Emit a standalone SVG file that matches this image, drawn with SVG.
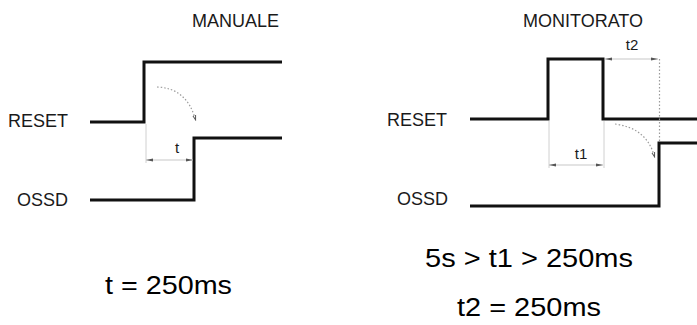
<svg xmlns="http://www.w3.org/2000/svg" width="697" height="325" viewBox="0 0 697 325">
  <defs>
    <style>
      .sig { fill: none; stroke: #111; stroke-width: 3; stroke-linejoin: miter; stroke-linecap: butt; }
      .ext { fill: none; stroke: #d0d0d0; stroke-width: 1; }
      .dim { fill: none; stroke: #c8c8c8; stroke-width: 1.2; marker-start: url(#arrS); marker-end: url(#arrE); }
      .dot { fill: none; stroke: #9a9a9a; stroke-width: 1.2; stroke-dasharray: 1.5 2; }
      .lbl { font-family: "Liberation Sans", Arial, sans-serif; font-size: 18px; fill: #1a1a1a; }
      .sm { font-family: "Liberation Sans", Arial, sans-serif; font-size: 15px; fill: #1a1a1a; text-anchor: middle; }
      .big { font-family: "Liberation Sans", Arial, sans-serif; font-size: 25px; fill: #000; }
    </style>
    <marker id="arrE" markerWidth="8" markerHeight="6" refX="7" refY="3" orient="auto" markerUnits="userSpaceOnUse">
      <path d="M0,1.5 L7,3 L0,4.5 Z" fill="#555"/>
    </marker>
    <marker id="arrS" markerWidth="8" markerHeight="6" refX="1" refY="3" orient="auto" markerUnits="userSpaceOnUse">
      <path d="M8,1.5 L1,3 L8,4.5 Z" fill="#555"/>
    </marker>
    <marker id="arcE" markerWidth="6" markerHeight="6" refX="3" refY="3" orient="auto" markerUnits="userSpaceOnUse">
      <path d="M0,1.5 L5,3 L0,4.5" fill="none" stroke="#555" stroke-width="1"/>
    </marker>
  </defs>

  <g id="manuale">
    <text class="lbl" x="192" y="27">MANUALE</text>
    <g id="reset-left">
      <text class="lbl" x="8" y="127">RESET</text>
      <path class="sig" d="M90,122 H144 V62 H282"/>
    </g>
    <g id="ossd-left">
      <text class="lbl" x="17" y="206">OSSD</text>
      <path class="sig" d="M90,200 H194 V138 H282"/>
    </g>
    <g id="dim-t">
      <line class="ext" x1="146" y1="124" x2="146" y2="163"/>
      <line class="dim" x1="146" y1="160" x2="193" y2="160"/>
      <text class="sm" x="177" y="153">t</text>
    </g>
  </g>

  <g id="monitorato">
    <text class="lbl" x="523" y="27">MONITORATO</text>
    <g id="reset-right">
      <text class="lbl" x="387" y="126">RESET</text>
      <path class="sig" d="M470,119 H548 V59 H603 V119 H697"/>
    </g>
    <g id="ossd-right">
      <text class="lbl" x="397" y="205">OSSD</text>
      <path class="sig" d="M470,206 H659 V143 H697"/>
    </g>
    <g id="dim-t1">
      <line class="ext" x1="549" y1="121" x2="549" y2="168"/>
      <line class="ext" x1="604" y1="121" x2="604" y2="168"/>
      <line class="dim" x1="549" y1="165" x2="603" y2="165"/>
      <text class="sm" x="581" y="159">t1</text>
    </g>
    <g id="dim-t2">
      <line class="dim" x1="605" y1="59" x2="658" y2="59"/>
      <text class="sm" x="632" y="50">t2</text>
    </g>
  </g>

  <g id="connectors">
    <path class="dot" d="M157,87 Q186,88 195,118" marker-end="url(#arcE)"/>
    <path class="dot" d="M615,124 Q646,128 654,155" marker-end="url(#arcE)"/>
    <line class="dot" x1="659.5" y1="59" x2="659.5" y2="142"/>
  </g>

  <g id="formulas">
    <text class="big" x="105" y="294" textLength="127" lengthAdjust="spacingAndGlyphs">t = 250ms</text>
    <text class="big" x="425" y="267" textLength="208" lengthAdjust="spacingAndGlyphs">5s &gt; t1 &gt; 250ms</text>
    <text class="big" x="457" y="316" textLength="144" lengthAdjust="spacingAndGlyphs">t2 = 250ms</text>
  </g>
</svg>
